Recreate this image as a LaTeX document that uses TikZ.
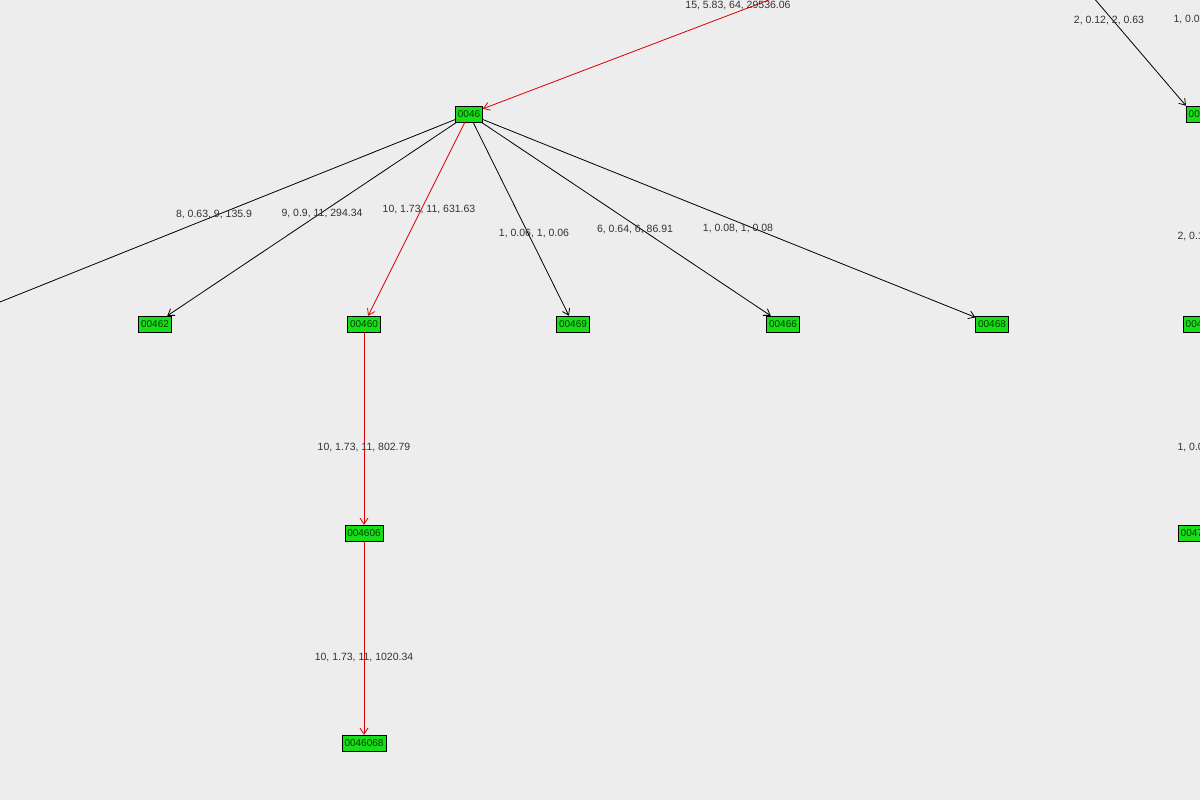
\documentclass[tikz,border=0pt]{standalone}
\usepackage{fontspec}
\setmainfont{Liberation Sans}
\usetikzlibrary{arrows.meta}
\begin{document}
\begin{tikzpicture}[x=1pt,y=-1pt,
  nd/.style={draw=black,fill=green!85!black!90,text=green!25!black,font=\fontsize{10}{11}\selectfont,inner xsep=2.5pt,inner ysep=1.5pt,minimum height=16pt},
  ed/.style={draw=black,-{Straight Barb[length=6pt,width=8pt]},line width=0.8pt},
  red/.style={ed,draw=red!85!black},
  lb/.style={font=\fontsize{10.5}{12}\selectfont,text=black!80}]
\fill[black!7] (0,0) rectangle (1200,800);
\clip (0,0) rectangle (1200,800);
\node[nd] (n0046) at (469,114) {0046};
\node[nd] (n00462) at (155,324) {00462};
\node[nd] (n00460) at (364,324) {00460};
\node[nd] (n00469) at (573,324) {00469};
\node[nd] (n00466) at (783,324) {00466};
\node[nd] (n00468) at (992,324) {00468};
\node[nd] (n004606) at (364,533) {004606};
\node[nd] (n0046068) at (364,743) {0046068};
\node[nd] (n00461) at (-55,324) {00461};
\node[nd] (n00461b) at (-55,533) {004618};
\node[nd,anchor=west] (r1) at (1186,114) {0047};
\node[nd,anchor=west] (r2) at (1183,324) {00470};
\node[nd,anchor=west] (r3) at (1178,533) {004706};
\coordinate (p0) at (1050,-107);
\coordinate (p1) at (1010,-100);
\coordinate (p2) at (1290,-40);
\draw[red] (p0) -- (n0046);
\draw[ed] (n0046) -- (n00461);
\draw[ed] (n0046) -- (n00462);
\draw[red] (n0046) -- (n00460);
\draw[ed] (n0046) -- (n00469);
\draw[ed] (n0046) -- (n00466);
\draw[ed] (n0046) -- (n00468);
\draw[red] (n00460) -- (n004606);
\draw[red] (n004606) -- (n0046068);
\draw[ed] (n00461) -- (n00461b);
\draw[ed] (p1) -- (r1.north west);
\draw[ed] (p2) -- (r1);
\node[lb] at (738,6) {15, 5.83, 64, 29536.06};
\node[lb] at (214,215) {8, 0.63, 9, 135.9};
\node[lb] at (322,214) {9, 0.9, 11, 294.34};
\node[lb] at (429,210) {10, 1.73, 11, 631.63};
\node[lb] at (534,234) {1, 0.06, 1, 0.06};
\node[lb] at (635,230) {6, 0.64, 6, 86.91};
\node[lb] at (738,229) {1, 0.08, 1, 0.08};
\node[lb] at (364,448) {10, 1.73, 11, 802.79};
\node[lb] at (364,657) {10, 1.73, 11, 1020.34};
\node[lb,anchor=east] at (3,448) {1, 0.04, 1, 0.03};
\node[lb] at (1109,21) {2, 0.12, 2, 0.63};
\node[lb,anchor=west] at (1170,20) {1, 0.08, 1, 0.08};
\node[lb,anchor=west] at (1174,237) {2, 0.12, 2, 0.63};
\node[lb,anchor=west] at (1174,448) {1, 0.06, 1, 0.06};
\end{tikzpicture}
\end{document}
